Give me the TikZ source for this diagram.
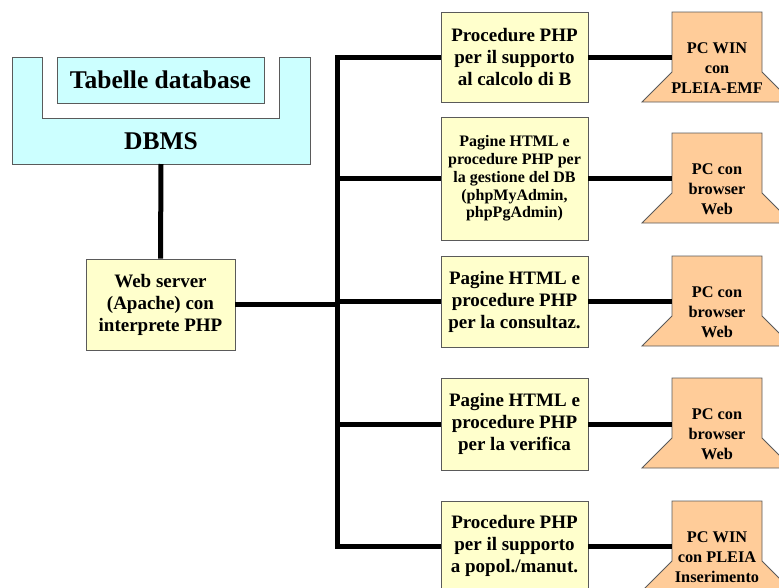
\documentclass[tikz,border=0pt]{standalone}
\usepackage{fontspec}
\setmainfont{Liberation Serif}
\usepackage{tikz}
\usetikzlibrary{positioning, calc}
\definecolor{cCyan}{RGB}{204,255,255}
\definecolor{cYellow}{RGB}{255,255,204}
\definecolor{cPeach}{RGB}{255,204,153}
\definecolor{cEdge}{RGB}{90,90,90}
\tikzset{
	dbfill/.style   ={fill=cCyan, draw=cEdge, line width=0.8pt},
	tabbox/.style   ={rectangle, draw=cEdge, line width=0.8pt, fill=cCyan, minimum width=207pt, minimum height=46pt, inner sep=0pt, align=center, font=\fontsize{25.5}{29}\selectfont\bfseries},
	dbtext/.style   ={inner sep=0pt, font=\fontsize{25.5}{29}\selectfont\bfseries},
	srvbox/.style   ={rectangle, draw=cEdge, line width=0.8pt, fill=cYellow, minimum width=149pt, minimum height=91pt, inner sep=0pt, align=center, font=\fontsize{19}{22}\selectfont\bfseries},
	midbox/.style   ={rectangle, draw=cEdge, line width=0.8pt, fill=cYellow, minimum width=147pt, inner sep=0pt, align=center, font=\fontsize{19}{22}\selectfont\bfseries},
	smalltxt/.style ={font=\fontsize{16}{17.8}\selectfont\bfseries},
	pcfill/.style   ={fill=cPeach, draw=cEdge, line width=0.8pt},
	pctext/.style   ={inner sep=0pt, align=center, font=\fontsize{16.3}{20}\selectfont\bfseries},
	conn/.style     ={line width=5pt, line join=miter},
}
% monitor outline with its text: name, x of centre, y of top, text
\newcommand{\pcunit}[4]{%
	\filldraw[pcfill] (#2-45,#3) -- (#2+45,#3) -- (#2+45,#3+60) -- (#2+75,#3+90) -- (#2-75,#3+90) -- (#2-45,#3+60) -- cycle;
	\coordinate (#1) at (#2-45,#3+45);
	\node[pctext] (#1txt) at (#2,#3+56) {#4};}

\begin{document}
\begin{tikzpicture}[x=1pt, y=-1pt]
	\useasboundingbox (0,0) rectangle (779,587);
	\clip (0,0) rectangle (779,587);
	% ---------- DBMS with the tables inside ----------
	\filldraw[dbfill] (12,57) -- (42,57) -- (42,118) -- (279,118) -- (279,57) -- (310,57) -- (310,164) -- (12,164) -- cycle;
	\node[tabbox] (tab) at (160.5,80) {Tabelle database};
	\node[dbtext] (dbms) at (161,141) {DBMS};
	\coordinate (dbbot) at (161,164);
	% ---------- web server ----------
	\node[srvbox] (web) at (160.5,304.5) {Web server\\(Apache) con\\interprete PHP};
	% ---------- PHP / HTML blocks ----------
	\node[midbox, minimum height=90pt] (m1) at (514.5,57) {Procedure PHP\\per il supporto\\al calcolo di B};
	\node[midbox, minimum height=123pt, smalltxt] (m2) at (514.5,178.5) {Pagine HTML e\\procedure PHP per\\la gestione del DB\\(phpMyAdmin,\\phpPgAdmin)};
	\node[midbox, minimum height=91pt] (m3) at (514.5,301.5) {Pagine HTML e\\procedure PHP\\per la consultaz.};
	\node[midbox, minimum height=92pt] (m4) at (514.5,424) {Pagine HTML e\\procedure PHP\\per la verifica};
	\node[midbox, minimum height=90pt] (m5) at (514.5,546) {Procedure PHP\\per il supporto\\a popol./manut.};
	% ---------- client PCs ----------
	\pcunit{pc1}{717}{12}{PC WIN\\con\\PLEIA-EMF}
	\pcunit{pc2}{717}{133}{PC con\\browser\\Web}
	\pcunit{pc3}{717}{256}{PC con\\browser\\Web}
	\pcunit{pc4}{717}{378}{PC con\\browser\\Web}
	\pcunit{pc5}{717}{501}{PC WIN\\con PLEIA\\Inserimento}
	% ---------- connections ----------
	\coordinate (bus) at (337.5,0);
	\draw[conn] (dbbot) -- (web.north);
	\draw[conn] (m1.west) -- (m1.west -| bus) -- (m5.west -| bus) -- (m5.west);
	\draw[conn] (web.east) -- (web.east -| bus);
	\foreach \i in {2,3,4}
		\draw[conn] (m\i.west) -- (m\i.west -| bus);
	\foreach \i in {1,...,5}
		\draw[conn] (m\i.east) -- (m\i.east -| pc\i);
\end{tikzpicture}
\end{document}
